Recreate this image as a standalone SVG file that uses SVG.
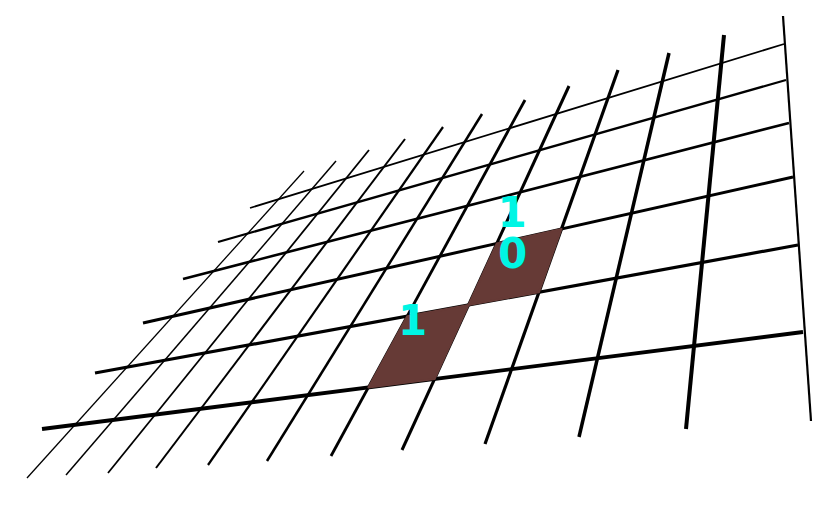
<svg xmlns="http://www.w3.org/2000/svg" width="835" height="506" viewBox="0 0 835 506">
<style>
.g line{stroke:#000;stroke-linecap:butt;fill:none}
.cell{fill:#663A36;stroke:#663A36;stroke-width:2;stroke-linejoin:round}
.lbl{font-family:"DejaVu Sans",sans-serif;font-weight:bold;font-size:42px;fill:#00F5E4;text-anchor:middle}
</style>
<rect width="835" height="506" fill="#fff"/>
<g id="grid" class="g">
<line x1="42" y1="429" x2="803" y2="332" stroke-width="3.8"/>
<line x1="95" y1="373" x2="798" y2="245" stroke-width="3.2"/>
<line x1="143" y1="323" x2="793" y2="177" stroke-width="3"/>
<line x1="183" y1="279" x2="789" y2="123" stroke-width="2.6"/>
<line x1="218" y1="242" x2="786" y2="80" stroke-width="2.3"/>
<line x1="250" y1="208" x2="784" y2="44" stroke-width="1.8"/>
<line x1="304" y1="171" x2="27" y2="478" stroke-width="1.3"/>
<line x1="336" y1="161" x2="66" y2="475" stroke-width="1.5"/>
<line x1="369" y1="150" x2="108" y2="473" stroke-width="1.8"/>
<line x1="405" y1="139" x2="156" y2="468" stroke-width="2"/>
<line x1="443" y1="127" x2="208" y2="465" stroke-width="2.2"/>
<line x1="482" y1="114" x2="267" y2="461" stroke-width="2.5"/>
<line x1="525" y1="100" x2="331" y2="456" stroke-width="2.8"/>
<line x1="569" y1="86" x2="402" y2="450" stroke-width="3"/>
<line x1="618" y1="70" x2="485" y2="444" stroke-width="3.2"/>
<line x1="669" y1="53" x2="579" y2="437" stroke-width="3.5"/>
<line x1="724" y1="35" x2="686" y2="429" stroke-width="4"/>
<line x1="783" y1="16" x2="811" y2="421" stroke-width="2.2"/>
</g>
<g id="cell-lower">
<polygon class="cell" points="368.4,387.4 434.6,379 468.5,305 407.2,316.2"/>
<text class="lbl" x="412.5" y="335">1</text>
</g>
<g id="cell-upper">
<polygon class="cell" points="468.5,305 539,292.2 561.5,229 496.7,243.6"/>
<text class="lbl" x="512" y="227">1</text>
<text class="lbl" x="512.5" y="268">0</text>
</g>
</svg>
